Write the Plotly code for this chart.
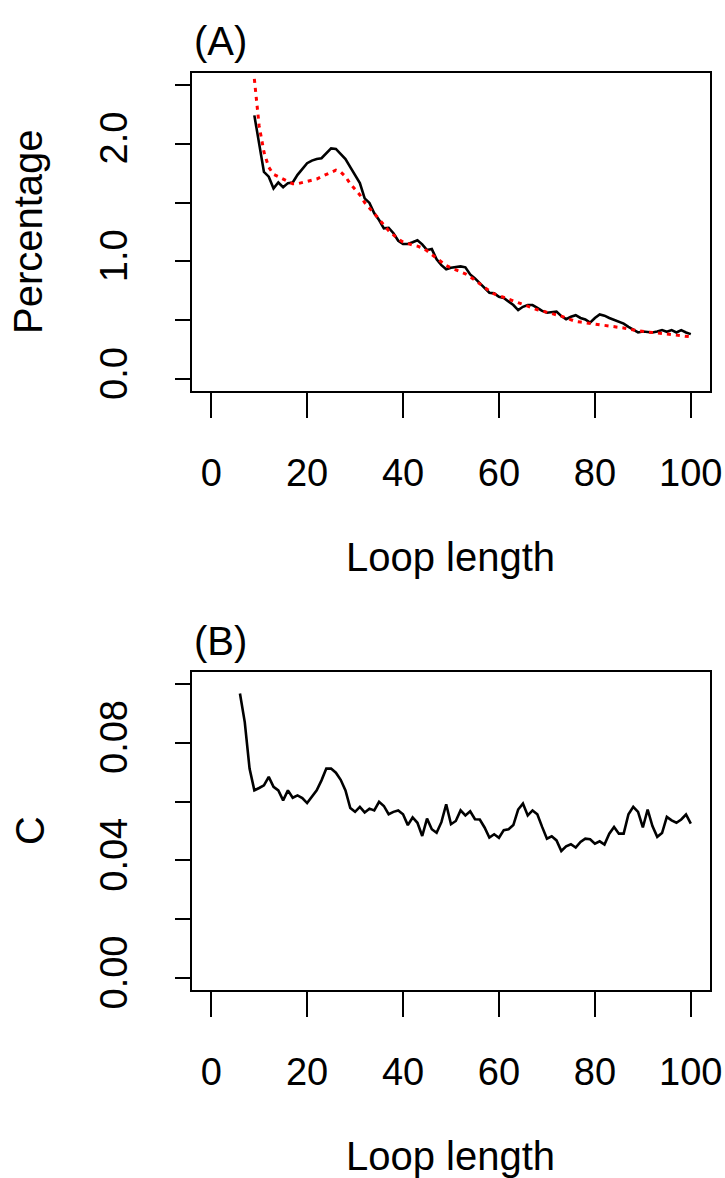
import plotly.graph_objects as go

W, H = 725, 1178

# ---------------- data ----------------
loop_a = list(range(9, 101))
observed_a = [2.24, 2.00, 1.76, 1.72, 1.62, 1.67, 1.63, 1.665, 1.67, 1.735,
              1.786, 1.834, 1.856, 1.87, 1.876, 1.919, 1.96, 1.955, 1.913, 1.87,
              1.80, 1.735, 1.665, 1.536, 1.497, 1.409, 1.352, 1.281, 1.286, 1.24,
              1.176, 1.148, 1.148, 1.163, 1.18, 1.145, 1.097, 1.105, 1.018, 0.969,
              0.933, 0.947, 0.955, 0.958, 0.95, 0.89, 0.856, 0.814, 0.78, 0.734,
              0.729, 0.70, 0.69, 0.657, 0.63, 0.587, 0.615, 0.63, 0.63, 0.606,
              0.58, 0.565, 0.567, 0.575, 0.536, 0.51, 0.53, 0.544, 0.52, 0.507,
              0.48, 0.52, 0.55, 0.54, 0.52, 0.502, 0.485, 0.472, 0.445, 0.42,
              0.397, 0.405, 0.40, 0.397, 0.405, 0.417, 0.403, 0.417, 0.397, 0.417,
              0.397, 0.383]
expected_a = [2.55, 2.15, 1.93, 1.80, 1.74, 1.72, 1.70, 1.68, 1.66, 1.66,
              1.67, 1.68, 1.69, 1.70, 1.72, 1.74, 1.76, 1.775, 1.76, 1.72,
              1.66, 1.61, 1.565, 1.50, 1.455, 1.41, 1.36, 1.31, 1.26, 1.225,
              1.19, 1.165, 1.15, 1.14, 1.13, 1.115, 1.09, 1.06, 1.03, 0.995,
              0.965, 0.945, 0.93, 0.915, 0.895, 0.87, 0.84, 0.81, 0.775, 0.75,
              0.725, 0.71, 0.695, 0.68, 0.665, 0.65, 0.63, 0.615, 0.60, 0.59,
              0.58, 0.57, 0.56, 0.545, 0.535, 0.52, 0.505, 0.49, 0.485, 0.48,
              0.475, 0.47, 0.462, 0.458, 0.452, 0.447, 0.442, 0.435, 0.425, 0.418,
              0.41, 0.403, 0.40, 0.397, 0.393, 0.39, 0.386, 0.382, 0.377, 0.37,
              0.365, 0.36]

loop_b = list(range(6, 101))
c_values = [0.0967, 0.087, 0.0712, 0.0638, 0.0646, 0.0655, 0.0684, 0.065, 0.0638, 0.0604,
            0.0638, 0.0613, 0.0621, 0.0612, 0.0595, 0.0616, 0.0638, 0.0672, 0.0712, 0.0712,
            0.0698, 0.0674, 0.0638, 0.0578, 0.0565, 0.0582, 0.0563, 0.0576, 0.0570, 0.0599,
            0.0585, 0.0557, 0.0565, 0.057, 0.0557, 0.052, 0.0546, 0.0528, 0.0483, 0.0542,
            0.0506, 0.0494, 0.053, 0.0591, 0.0523, 0.0534, 0.057, 0.0553, 0.0567, 0.054,
            0.0539, 0.0512, 0.0478, 0.0489, 0.0477, 0.0503, 0.0506, 0.052, 0.0573, 0.0593,
            0.0553, 0.057, 0.0557, 0.0514, 0.0474, 0.0482, 0.0468, 0.0432, 0.0448, 0.0455,
            0.0444, 0.0463, 0.0474, 0.0472, 0.0457, 0.0465, 0.0454, 0.0491, 0.0514, 0.0491,
            0.0491, 0.0557, 0.0582, 0.0565, 0.0512, 0.0573, 0.0517, 0.048, 0.0493, 0.0548,
            0.0536, 0.0528, 0.0539, 0.0556, 0.0525]

x_ticks = [0, 20, 40, 60, 80, 100]
ya_ticks = [0.0, 0.5, 1.0, 1.5, 2.0, 2.5]
ya_text = ["0.0", "", "1.0", "", "2.0", ""]
yb_ticks = [0.00, 0.02, 0.04, 0.06, 0.08, 0.10]
yb_text = ["0.00", "", "0.04", "", "0.08", ""]

# ---------------- figure ----------------
FONT = "Liberation Sans"
TICK_SIZE = 38
TITLE_SIZE = 40

fig = go.Figure()
fig.add_trace(go.Scatter(x=loop_a, y=observed_a, mode="lines",
                         line=dict(color="black", width=2.6),
                         xaxis="x", yaxis="y", showlegend=False))
fig.add_trace(go.Scatter(x=loop_a, y=expected_a, mode="lines",
                         line=dict(color="#ff0000", width=3, dash="4px,5px"),
                         xaxis="x", yaxis="y", showlegend=False))
fig.add_trace(go.Scatter(x=loop_b, y=c_values, mode="lines",
                         line=dict(color="black", width=2.6),
                         xaxis="x2", yaxis="y2", showlegend=False))

xdom = [192 / W, 710 / W]
ya_dom = [(H - 391) / H, (H - 73) / H]
yb_dom = [(H - 990) / H, (H - 672) / H]

common_x = dict(range=[-4, 104], tickvals=x_ticks, ticktext=[str(v) for v in x_ticks],
                ticks="outside", ticklen=25, tickwidth=2, tickcolor="black",
                showline=True, mirror=True, linecolor="black", linewidth=2,
                showgrid=False, zeroline=False, ticklabelstandoff=22,
                tickfont=dict(family=FONT, size=TICK_SIZE, color="black"),
                automargin=False)
common_y = dict(ticks="outside", ticklen=15, tickwidth=2, tickcolor="black",
                showline=True, mirror=True, linecolor="black", linewidth=2,
                showgrid=False, zeroline=False, tickangle=-90, ticklabelstandoff=33,
                tickfont=dict(family=FONT, size=TICK_SIZE, color="black"),
                automargin=False)

fig.update_layout(
    width=W, height=H,
    margin=dict(l=0, r=0, t=0, b=0),
    paper_bgcolor="white", plot_bgcolor="white",
    xaxis=dict(domain=xdom, anchor="y", **common_x),
    yaxis=dict(domain=ya_dom, anchor="x", range=[-0.1, 2.6],
               tickvals=ya_ticks, ticktext=ya_text, **common_y),
    xaxis2=dict(domain=xdom, anchor="y2", **common_x),
    yaxis2=dict(domain=yb_dom, anchor="x2", range=[-0.004, 0.104],
                tickvals=yb_ticks, ticktext=yb_text, **common_y),
)

def ann(text, x, y, angle=0, xanchor="center", size=TITLE_SIZE):
    fig.add_annotation(text=text, x=x / W, y=(H - y) / H, xref="paper", yref="paper",
                       showarrow=False, textangle=angle, xanchor=xanchor, yanchor="middle",
                       font=dict(family=FONT, size=size, color="black"))

ann("(A)", 192, 41, xanchor="left")
ann("(B)", 192, 641, xanchor="left")
ann("Percentage", 28, 232, angle=-90)
ann("C", 30, 831, angle=-90)
ann("Loop length", 451, 557)
ann("Loop length", 451, 1156)

fig.write_html("out.html",
               config={"displayModeBar": False},
               post_script="document.body.style.margin='0';document.body.style.overflow='hidden';")
